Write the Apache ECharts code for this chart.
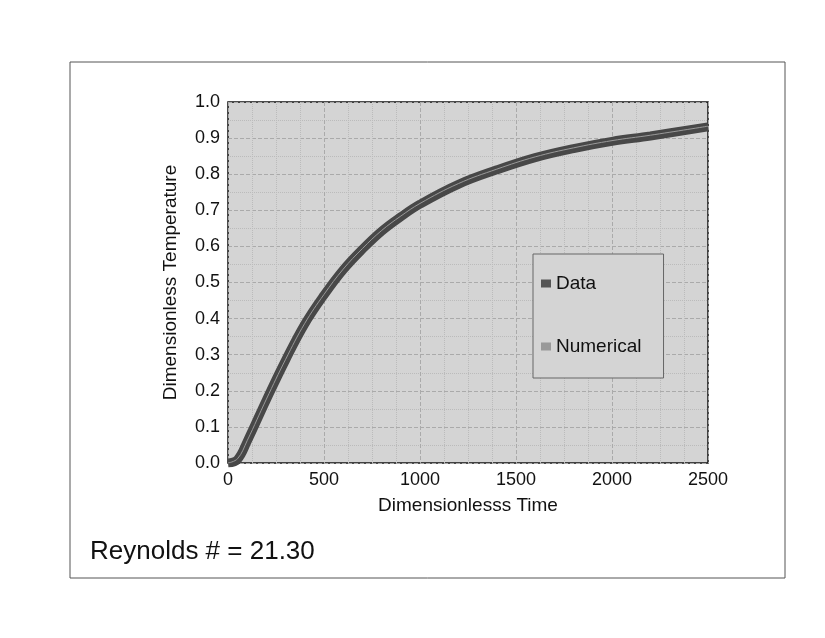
<!DOCTYPE html>
<html>
<head>
<meta charset="UTF-8">
<script src="https://cdn.jsdelivr.net/npm/echarts@6/dist/echarts.min.js"></script>
<style>
  body { margin: 0; padding: 0; background: #fff; }
  #chart { width: 825px; height: 638px; }
</style>
</head>
<body>
<div id="chart"></div>
<script>
// dimensionless time vs temperature
const times = [0, 50, 100, 200, 300, 400, 500, 600, 700, 800, 900, 1000, 1200, 1400, 1600, 1800, 2000, 2200, 2500];
const dataTemp = [0, 0.01, 0.06, 0.175, 0.285, 0.385, 0.465, 0.535, 0.592, 0.642, 0.682, 0.717, 0.772, 0.812, 0.846, 0.871, 0.891, 0.906, 0.931];
const numTemp = [0, 0.012, 0.062, 0.177, 0.287, 0.387, 0.467, 0.537, 0.594, 0.644, 0.684, 0.719, 0.774, 0.814, 0.848, 0.873, 0.893, 0.908, 0.933];

const ec = echarts.init(document.getElementById('chart'));
const font = 'Liberation Sans, Arial, sans-serif';

ec.setOption({
    backgroundColor: '#fff',
    animation: false,
    graphic: [
        { type: 'rect', shape: { x: 70, y: 62, width: 715, height: 516 },
          style: { fill: 'none', stroke: '#555', lineWidth: 1 } },
        { type: 'text', left: 90, top: 539,
          style: { text: 'Reynolds # = 21.30', fontSize: 26, fill: '#111', fontFamily: font } }
    ],
    grid: { left: 228, right: 117, top: 102, bottom: 175,
            show: true, backgroundColor: '#d4d4d4', borderColor: '#111', borderWidth: 1.5 },
    legend: {
        orient: 'vertical', left: 533, top: 254,
        padding: [20, 22, 22, 8], itemGap: 44,
        backgroundColor: '#d4d4d4', borderColor: '#666', borderWidth: 1,
        textStyle: { fontSize: 19, fontFamily: font, color: '#111' },
        data: [
            { name: 'Data', icon: 'rect', itemStyle: { color: '#555' } },
            { name: 'Numerical', icon: 'rect' }
        ],
        itemWidth: 10, itemHeight: 8
    },
    xAxis: {
        type: 'value', min: 0, max: 2500, interval: 500,
        name: 'Dimensionlesss Time', nameLocation: 'middle', nameGap: 33,
        nameTextStyle: { fontSize: 19, fontFamily: font, color: '#111' },
        axisLine: { show: false }, axisTick: { show: false },
        axisLabel: { fontSize: 18, fontFamily: font, color: '#111', formatter: v => String(v) },
        splitLine: { lineStyle: { color: '#aaa', type: 'dashed' } },
        minorTick: { show: false, splitNumber: 4 },
        minorSplitLine: { show: true, lineStyle: { color: '#bbb', type: 'dotted' } }
    },
    yAxis: {
        type: 'value', min: 0, max: 1, interval: 0.1,
        name: 'Dimensionless Temperature', nameLocation: 'middle', nameGap: 48,
        nameTextStyle: { fontSize: 19, fontFamily: font, color: '#111' },
        axisLine: { show: false }, axisTick: { show: false },
        axisLabel: { fontSize: 18, fontFamily: font, color: '#111',
                     formatter: v => v.toFixed(1) },
        splitLine: { lineStyle: { color: '#aaa', type: 'dashed' } },
        minorTick: { show: false, splitNumber: 2 },
        minorSplitLine: { show: true, lineStyle: { color: '#bbb', type: 'dotted' } }
    },
    series: [
        { name: 'Data', type: 'line', smooth: 0.4, showSymbol: false,
          data: times.map((t, i) => [t, dataTemp[i]]),
          itemStyle: { color: '#555' },
          lineStyle: { color: '#484848', width: 9 } },
        { name: 'Numerical', type: 'line', smooth: 0.4, showSymbol: false,
          data: times.map((t, i) => [t, numTemp[i]]),
          itemStyle: { color: '#999' },
          lineStyle: { color: '#9a9a9a', width: 1 } }
    ]
});
</script>
</body>
</html>
